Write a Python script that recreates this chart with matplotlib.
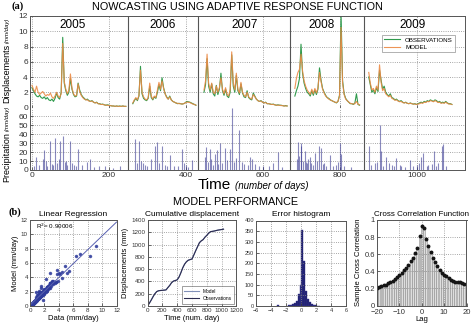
import numpy as np
import matplotlib
matplotlib.use("Agg")
import matplotlib.pyplot as plt

plt.rcParams["font.family"] = ["Liberation Sans", "DejaVu Sans"]
plt.rcParams["axes.unicode_minus"] = True

W, H = 474, 324
STEP = 4  # days between samples

# displacement series (mm/day), one list per year, sampled every STEP days
year_names = ["2005", "2006", "2007", "2008", "2009"]
year_start = [0, 262, 447, 683, 875]
year_label_x = [107, 340, 553, 752, 989]
year_breaks = [249, 431, 670, 862]

obs_2005 = [2.6, 2.2, 1.8, 1.5, 1.4, 1.6, 1.3, 1.2, 1.4, 1.1, 1.3, 1.0, 0.9, 1.1, 0.8,
            1.2, 1.9, 1.3, 1.1, 2.0, 9.2, 3.2, 2.2, 1.6, 2.0, 3.8, 2.4, 1.7, 1.4, 1.5,
            3.2, 2.3, 1.7, 1.4, 1.2, 1.0, 1.1, 0.9, 0.8, 0.9, 0.7, 0.6, 0.7, 0.5, 0.5,
            0.4, 0.45, 0.35, 0.3, 0.35, 0.3, 0.25, 0.2, 0.2, 0.15, 0.2, 0.15, 0.2, 0.15,
            0.2, 0.15, 0.15]
mod_2005 = [2.9, 2.4, 2.0, 2.8, 2.0, 1.7, 1.9, 2.1, 1.8, 1.5, 1.7, 1.6, 1.9, 1.4, 1.2,
            1.5, 2.0, 1.5, 1.3, 1.8, 8.4, 3.4, 2.4, 1.8, 2.3, 4.4, 2.6, 1.8, 1.5, 1.6,
            3.1, 2.1, 1.6, 1.3, 1.1, 1.0, 1.0, 0.85, 0.8, 0.85, 0.7, 0.6, 0.65, 0.5, 0.45,
            0.4, 0.4, 0.35, 0.3, 0.3, 0.25, 0.25, 0.2, 0.2, 0.15, 0.2, 0.15, 0.15, 0.15,
            0.2, 0.15, 0.15]
obs_2006 = [0.5, 0.9, 1.2, 0.9, 1.5, 5.4, 1.8, 1.2, 1.0, 0.9, 1.2, 2.8, 1.3, 1.0, 1.4,
            1.2, 2.0, 3.0, 2.2, 3.9, 2.6, 1.8, 1.4, 1.1, 1.5, 1.0, 0.8, 0.7, 0.6, 0.5,
            0.55, 0.5, 0.45, 0.5, 0.6, 0.8, 0.75, 0.7, 0.6, 0.5, 0.4, 0.3]
mod_2006 = [0.6, 1.0, 1.3, 1.0, 1.6, 4.9, 2.0, 1.4, 1.1, 1.0, 1.3, 3.2, 1.5, 1.1, 1.5,
            1.3, 2.3, 3.3, 2.4, 3.5, 2.5, 1.8, 1.3, 1.1, 1.4, 1.0, 0.8, 0.7, 0.6, 0.55,
            0.5, 0.5, 0.45, 0.5, 0.6, 0.7, 0.7, 0.65, 0.55, 0.45, 0.4, 0.3]
obs_2007 = [2.0, 3.0, 6.4, 2.8, 2.0, 3.1, 1.8, 1.5, 2.9, 1.7, 2.4, 4.5, 2.2, 1.6, 2.4,
            1.5, 1.3, 2.0, 6.9, 2.8, 2.0, 4.2, 2.2, 1.7, 3.1, 1.9, 1.4, 1.3, 2.2, 1.3,
            1.1, 1.0, 1.9, 1.5, 1.1, 0.9, 0.8, 0.9, 0.7, 0.6, 0.7, 0.5, 0.5, 0.45, 0.4,
            0.45, 0.35, 0.3, 0.35, 0.3, 0.3, 0.25, 0.2, 0.25, 0.2]
mod_2007 = [2.3, 3.5, 7.0, 3.2, 2.3, 3.2, 2.0, 1.8, 2.8, 2.0, 2.6, 3.9, 2.4, 1.8, 2.6,
            1.7, 1.5, 2.4, 7.3, 3.2, 2.3, 4.5, 2.4, 1.9, 3.3, 2.0, 1.6, 1.4, 2.0, 1.4,
            1.2, 1.1, 1.7, 1.4, 1.1, 0.9, 0.8, 0.85, 0.7, 0.6, 0.65, 0.5, 0.5, 0.45, 0.4,
            0.4, 0.35, 0.3, 0.3, 0.3, 0.25, 0.25, 0.2, 0.2, 0.2]
obs_2008 = [1.5, 2.2, 2.8, 3.8, 8.3, 4.5, 3.2, 2.5, 2.0, 1.8, 1.5, 2.2, 1.6, 2.3, 1.7,
            2.4, 5.2, 3.6, 2.5, 2.0, 1.6, 1.3, 1.2, 1.0, 0.9, 0.8, 0.7, 0.6, 0.8, 1.6,
            12.3, 3.5, 1.8, 1.2, 0.9, 0.7, 0.5, 0.5, 0.4, 0.6, 1.8, 0.4, 0.3]
mod_2008 = [2.5, 3.8, 4.6, 5.0, 7.0, 4.8, 3.5, 2.8, 2.3, 2.0, 1.7, 2.4, 1.8, 2.5, 1.9,
            2.6, 4.6, 3.4, 2.4, 1.9, 1.5, 1.3, 1.1, 1.0, 0.9, 0.8, 0.7, 0.65, 0.8, 1.5,
            10.5, 3.2, 1.7, 1.1, 0.9, 0.7, 0.55, 0.5, 0.45, 0.5, 0.8, 0.45, 0.35]
obs_2009 = [4.0, 3.0, 2.0, 2.3, 1.8, 2.6, 2.1, 4.9, 3.6, 2.4, 2.8, 2.0, 1.7, 1.5, 1.8,
            1.3, 1.2, 1.0, 1.1, 0.9, 0.8, 0.9, 0.7, 0.6, 0.7, 0.55, 0.5, 0.6, 0.5, 0.45,
            0.5, 0.4, 0.5, 0.6, 0.7, 0.6, 0.8, 0.7, 0.9, 0.8, 1.0, 0.9, 0.8, 1.0, 0.9,
            0.7, 0.8, 0.6, 0.7, 0.6, 0.8, 0.6, 0.5, 0.5, 0.4]
mod_2009 = [4.6, 3.2, 2.3, 2.5, 2.0, 2.8, 2.3, 5.6, 3.3, 2.2, 2.5, 1.8, 1.6, 1.4, 1.6,
            1.2, 1.1, 0.95, 1.0, 0.85, 0.75, 0.8, 0.65, 0.6, 0.65, 0.55, 0.5, 0.55, 0.5, 0.45,
            0.45, 0.4, 0.45, 0.5, 0.6, 0.55, 0.7, 0.65, 0.8, 0.75, 0.9, 0.85, 0.75, 0.9, 0.8,
            0.65, 0.7, 0.55, 0.6, 0.55, 0.7, 0.55, 0.45, 0.45, 0.4]

obs_years = [obs_2005, obs_2006, obs_2007, obs_2008, obs_2009]
mod_years = [mod_2005, mod_2006, mod_2007, mod_2008, mod_2009]

# daily rainfall events (day, mm/day)
rain_day = [5, 10, 18, 28, 32, 36, 40, 47, 52, 55, 60, 66, 70, 73, 80, 85, 88, 92, 99,
            104, 110, 115, 120, 130, 142, 151, 160, 175, 190, 210, 228,
            268, 272, 279, 283, 289, 295, 300, 310, 319, 324, 330, 337, 345, 350, 358,
            370, 380, 389, 395, 400, 405, 415,
            449, 452, 458, 462, 466, 470, 475, 480, 484, 488, 495, 501, 507, 514, 519,
            525, 530, 539, 545, 550, 560, 566, 571, 580, 590, 600, 615, 627, 640, 650,
            688, 692, 695, 698, 700, 705, 709, 712, 715, 718, 722, 726, 730, 735, 740,
            746, 752, 756, 760, 765, 774, 782, 790, 795, 800, 803, 810, 830,
            876, 880, 890, 896, 904, 908, 912, 921, 928, 935, 940, 947, 955, 960, 970,
            982, 990, 1000, 1005, 1010, 1017, 1025, 1030, 1038, 1044, 1050, 1055, 1064,
            1068, 1075]
rain_mm = [4, 15, 6, 12, 22, 10, 5, 33, 7, 6, 36, 8, 12, 33, 38, 9, 10, 6, 33,
           8, 6, 5, 23, 6, 9, 12, 3, 4, 4, 2, 5,
           35, 8, 33, 10, 8, 6, 5, 12, 27, 31, 8, 27, 6, 5, 17,
           4, 4, 23, 8, 6, 3, 11,
           15, 26, 9, 23, 12, 6, 18, 22, 7, 30, 8, 25, 11, 23, 70,
           9, 14, 45, 9, 7, 6, 15, 12, 7, 5, 4, 5, 8, 20, 3,
           12, 31, 16, 30, 27, 10, 21, 9, 8, 12, 15, 8, 6, 19, 10,
           27, 25, 7, 8, 5, 17, 4, 6, 9, 30, 18, 4, 3,
           27, 6, 8, 9, 50, 21, 5, 15, 8, 6, 4, 13, 6, 5, 3,
           11, 5, 6, 8, 15, 19, 4, 6, 7, 21, 5,
           8, 27, 29, 4]

# cumulative displacement (mm) against elapsed days
cum_day = [0, 25, 50, 75, 100, 125, 150, 175, 200, 225, 250, 275, 300, 325, 350, 375,
           400, 425, 450, 475, 500, 525, 550, 575, 600, 625, 650, 675, 700, 725, 750,
           775, 800, 825, 850, 875, 900, 925, 950, 975, 1000, 1025]
cum_obs = [0, 45, 95, 150, 200, 235, 248, 252, 255, 258, 262, 300, 335, 380, 405, 415,
           425, 470, 540, 620, 680, 720, 745, 755, 765, 830, 900, 965, 1030, 1060, 1080,
           1120, 1150, 1185, 1210, 1215, 1220, 1228, 1235, 1240, 1245, 1250]
cum_mod = [0, 48, 100, 155, 203, 236, 249, 253, 256, 259, 264, 302, 338, 382, 406, 416,
           427, 474, 545, 624, 683, 722, 747, 757, 768, 834, 903, 968, 1032, 1062, 1083,
           1122, 1152, 1186, 1211, 1216, 1222, 1229, 1236, 1241, 1246, 1252]

# model performance panels
r2_text = "R$^2$= 0.90006"
err_centers = [-3.1, -1.6, -1.35, -1.1, -0.85, -0.6, -0.35, -0.1, 0.15, 0.4, 0.65,
               0.9, 1.15, 1.4, 1.65, 1.9, 2.4]
err_counts = [3, 3, 5, 8, 12, 25, 55, 100, 355, 212, 70, 35, 18, 10, 5, 3, 2]
lags = list(range(-20, 21))
xcorr = [0.20, 0.215, 0.225, 0.235, 0.245, 0.26, 0.27, 0.285, 0.31, 0.33, 0.36,
         0.385, 0.41, 0.44, 0.475, 0.52, 0.56, 0.61, 0.67, 0.81, 0.93, 0.91, 0.78,
         0.70, 0.62, 0.56, 0.51, 0.46, 0.42, 0.385, 0.36, 0.34, 0.32, 0.30, 0.29,
         0.28, 0.275, 0.27, 0.26, 0.255, 0.25]

GREEN = "#2f9a4c"
ORANGE = "#ec8a45"
NAVY = "#1c1c6c"
GRID = dict(color="#8a8a8a", linestyle=":", linewidth=0.6)
FRAME = "#555555"


def add_axes(l, t, r, b):
    return fig.add_axes([l / W, 1 - b / H, (r - l) / W, (b - t) / H])


def style(ax, fs=4.5):
    ax.grid(True, **GRID)
    ax.tick_params(direction="in", length=2, width=0.5, labelsize=fs, pad=1.5,
                   colors="#333333")
    for s in ax.spines.values():
        s.set_color(FRAME)
        s.set_linewidth(0.7)


fig = plt.figure(figsize=(W / 100, H / 100), dpi=100)

# ---- (a) nowcasting time series ----
ax_d = add_axes(30, 16, 465, 107.5)
ax_p = add_axes(30, 107.5, 465, 170)

for start, obs, mod in zip(year_start, obs_years, mod_years):
    days = start + STEP * np.arange(len(obs))
    ax_d.plot(days, obs, color=GREEN, lw=0.8, label="OBSERVATIONS")
    ax_d.plot(days, mod, color=ORANGE, lw=0.8, alpha=0.9, label="MODEL")

for name, x in zip(year_names, year_label_x):
    ax_d.text(x, 10.8, name, ha="center", va="center", fontsize=8.5)

handles, labels = ax_d.get_legend_handles_labels()
leg = ax_d.legend(handles[:2], labels[:2], loc="upper right", bbox_to_anchor=(0.985, 0.83),
                  fontsize=4.5, frameon=True, fancybox=False, handlelength=2.5,
                  borderpad=0.4, labelspacing=0.3, edgecolor="#777777")
leg.get_frame().set_linewidth(0.5)

ax_p.vlines(rain_day, 0, rain_mm, color="#3a3a92", lw=0.8, alpha=0.6)

for ax in (ax_d, ax_p):
    ax.set_xlim(-5, 1125)
    ax.set_xticks(range(0, 1001, 200))
    style(ax, fs=6)
    for b in year_breaks:
        ax.axvline(b, color="#555555", lw=0.8)

ax_d.set_ylim(0, 12)
ax_d.set_yticks(range(0, 13, 2))
ax_d.tick_params(labelbottom=False)
ax_d.spines["bottom"].set_visible(False)
ax_p.spines["top"].set_visible(False)
ax_p.set_ylim(0, 70)
ax_p.set_yticks(range(0, 61, 10))

fig.text(7 / W, 1 - 73 / H, "Displacements", rotation=90, ha="center", va="center", fontsize=6.5)
fig.text(7 / W, 1 - 30 / H, "(mm/day)", rotation=90, ha="center", va="center",
         fontsize=4.3, style="italic")
fig.text(7 / W, 1 - 157 / H, "Precipitation", rotation=90, ha="center", va="center", fontsize=6.5)
fig.text(7 / W, 1 - 118 / H, "(mm/day)", rotation=90, ha="center", va="center",
         fontsize=4.3, style="italic")
fig.text(231 / W, 1 - 185 / H, "Time", ha="right", va="center", fontsize=11)
fig.text(235 / W, 1 - 186 / H, "(number of days)", ha="left", va="center",
         fontsize=7, style="italic")
fig.text(237 / W, 1 - 7 / H, "NOWCASTING USING ADAPTIVE RESPONSE FUNCTION",
         ha="center", va="center", fontsize=7.8)
fig.text(18 / W, 1 - 6 / H, "(a)", ha="center", va="center", fontsize=7.5,
         fontweight="bold", family="Liberation Serif")

# ---- (b) model performance ----
fig.text(236 / W, 1 - 202 / H, "MODEL PERFORMANCE", ha="center", va="center", fontsize=7.8)
fig.text(15 / W, 1 - 212 / H, "(b)", ha="center", va="center", fontsize=7.5,
         fontweight="bold", family="Liberation Serif")

obs_all = np.concatenate(obs_years)
mod_all = np.concatenate(mod_years)

# linear regression
ax1 = add_axes(30, 220, 116.5, 306)
ax1.plot(obs_all, mod_all, ".", color="#2f3c9c", ms=3, alpha=0.8)
coef = np.polyfit(obs_all, mod_all, 1)
xs = np.array([0, 12])
ax1.plot(xs, np.polyval(coef, xs), color="#5860b0", lw=0.7)
ax1.text(0.9, 11.1, r2_text, fontsize=4.5, va="center")
ax1.set_xlim(0, 12)
ax1.set_ylim(0, 12)
ax1.set_xticks(range(0, 13, 2))
ax1.set_yticks(range(0, 13, 2))
style(ax1)
ax1.set_title("Linear Regression", fontsize=6, pad=3)
ax1.set_xlabel("Data (mm/day)", fontsize=5.5, labelpad=1.5)
ax1.set_ylabel("Model (mm/day)", fontsize=5.5, labelpad=1.5)

# cumulative displacement
ax2 = add_axes(147.5, 220, 236.5, 306)
ax2.plot(cum_day, cum_mod, color="#8090b8", lw=0.8, label="Model")
ax2.plot(cum_day, cum_obs, color="#2c2c50", lw=0.8, label="Observations")
ax2.set_xlim(0, 1200)
ax2.set_ylim(0, 1400)
ax2.set_xticks(range(0, 1201, 200))
ax2.set_yticks(range(0, 1401, 200))
style(ax2)
leg2 = ax2.legend(loc="lower right", fontsize=3.5, fancybox=False, edgecolor="#555555",
                  handlelength=3, borderpad=0.5, labelspacing=0.5)
leg2.get_frame().set_linewidth(0.5)
ax2.set_title("Cumulative displacement", fontsize=6, pad=3)
ax2.set_xlabel("Time (num. day)", fontsize=5.5, labelpad=1.5)
ax2.set_ylabel("Displacements (mm)", fontsize=5.5, labelpad=1.5)

# error histogram
ax3 = add_axes(256, 220.5, 346.5, 306)
ax3.bar(err_centers, err_counts, width=0.25, color=NAVY, edgecolor="#3a3a90", lw=0.3)
ax3.set_xlim(-6, 6)
ax3.set_ylim(0, 400)
ax3.set_xticks(range(-6, 7, 2))
ax3.set_yticks(range(0, 401, 50))
style(ax3, fs=4)
ax3.set_title("Error histogram", fontsize=6, pad=3)

# cross correlation
ax4 = add_axes(377, 220, 466.5, 305.5)
ax4.bar(lags, xcorr, width=0.85, facecolor="#dedede", edgecolor="#8c8c8c", lw=0.4)
ax4.plot(lags, xcorr, "o", color="#151515", ms=1.8)
ax4.set_xlim(-20, 20)
ax4.set_ylim(0, 1)
ax4.set_xticks([-20, -10, 0, 10, 20])
ax4.set_yticks([0, 0.2, 0.4, 0.6, 0.8, 1])
ax4.set_yticklabels(["0", "0.2", "0.4", "0.6", "0.8", "1"])
style(ax4, fs=5.5)
ax4.tick_params(axis="x", pad=2.5)
ax4.set_title("Cross Correlation Function", fontsize=5.8, pad=3)
ax4.set_xlabel("Lag", fontsize=5.5, labelpad=0)
ax4.set_ylabel("Sample Cross Correlation", fontsize=5.5, labelpad=1.5)

fig.savefig("out.png", dpi=100)
